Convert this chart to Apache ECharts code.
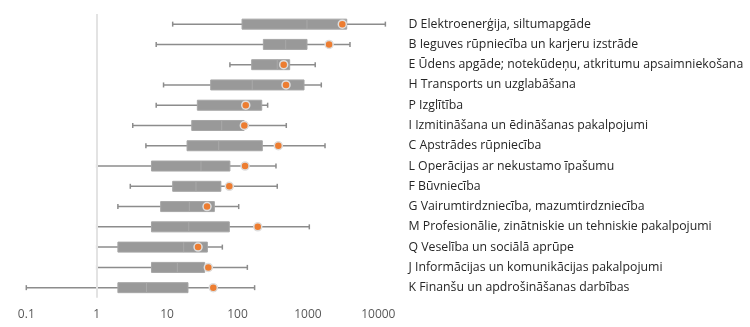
<!DOCTYPE html>
<html>
<head>
<meta charset="utf-8">
<script src="https://cdn.jsdelivr.net/npm/echarts@6/dist/echarts.min.js"></script>
<style>html,body{margin:0;padding:0;background:#fff;}#c{width:750px;height:327px;}</style>
</head>
<body>
<div id="c"></div>
<script>
const categories = [
  "D Elektroenerģija, siltumapgāde",
  "B Ieguves rūpniecība un karjeru izstrāde",
  "E Ūdens apgāde; notekūdeņu, atkritumu apsaimniekošana",
  "H Transports un uzglabāšana",
  "P Izglītība",
  "I Izmitināšana un ēdināšanas pakalpojumi",
  "C Apstrādes rūpniecība",
  "L Operācijas ar nekustamo īpašumu",
  "F Būvniecība",
  "G Vairumtirdzniecība, mazumtirdzniecība",
  "M Profesionālie, zinātniskie un tehniskie pakalpojumi",
  "Q Veselība un sociālā aprūpe",
  "J Informācijas un komunikācijas pakalpojumi",
  "K Finanšu un apdrošināšanas darbības"
];
const minValues    = [12,   7,    78,   8.9, 7,   3.25, 5,    1,    3,    2,    1,    1,    1,    0.1];
const q1Values     = [116,  233,  159,  41.6,26.9,22.4, 19.2, 6,    12,   8.1,  6,    2,    6,    2];
const medianValues = [970,  484,  367,  162, 120, 59.7, 54,   30.3, 25.7, 20.7, 20.3, 17.2, 14,   5.1];
const q3Values     = [3560, 971,  551,  881, 221, 124,  225,  78,   58,   46.9, 76.5, 37.3, 34.2, 19.8];
const maxValues    = [12600,3960, 1270, 1550,268, 493,  1750, 352,  367,  104,  1047, 60.9, 138,  175];
const meanValues   = [3080, 2000, 453,  489, 131, 125,  380,  128,  76.5, 36.9, 194,  27.5, 38.5, 45.3];
const tickLabels = ["0.1", "1", "10", "100", "1000", "10000"];

const boxData = categories.map((c, i) => [i, minValues[i], q1Values[i], medianValues[i], q3Values[i], maxValues[i]]);
const meanData = categories.map((c, i) => [meanValues[i], i]);

const chart = echarts.init(document.getElementById('c'), null, {renderer: 'canvas'});

function renderBox(params, api) {
  const idx = api.value(0);
  const pMin = api.coord([api.value(1), idx]);
  const pQ1 = api.coord([api.value(2), idx]);
  const pMed = api.coord([api.value(3), idx]);
  const pQ3 = api.coord([api.value(4), idx]);
  const pMax = api.coord([api.value(5), idx]);
  const y = pMin[1];
  const boxH = 10, capH = 5;
  const wStyle = {stroke: '#8c8c8c', lineWidth: 1.5};
  return {
    type: 'group',
    children: [
      {type: 'line', shape: {x1: pMin[0], y1: y, x2: pMax[0], y2: y}, style: wStyle},
      {type: 'line', shape: {x1: pMin[0], y1: y - capH / 2, x2: pMin[0], y2: y + capH / 2}, style: wStyle},
      {type: 'line', shape: {x1: pMax[0], y1: y - capH / 2, x2: pMax[0], y2: y + capH / 2}, style: wStyle},
      {type: 'rect', shape: {x: pQ1[0], y: y - boxH / 2, width: pQ3[0] - pQ1[0], height: boxH},
        style: {fill: '#999999', stroke: '#a6a6a6', lineWidth: 1}},
      {type: 'line', shape: {x1: pMed[0], y1: y - boxH / 2, x2: pMed[0], y2: y + boxH / 2},
        style: {stroke: '#a9a9a9', lineWidth: 1}}
    ]
  };
}

chart.setOption({
  animation: false,
  grid: {left: 26.3, right: 350.5, top: 14, bottom: 29.2, containLabel: false, outerBoundsMode: 'none'},
  xAxis: {
    type: 'log', logBase: 10, min: 0.1, max: 20000,
    axisLine: {show: false}, axisTick: {show: false}, splitLine: {show: false},
    axisLabel: {
      margin: 11, color: '#595959', fontSize: 12, fontFamily: 'Open Sans',
      showMaxLabel: false,
      formatter: function (v) {
        const e = Math.log10(v);
        const r = Math.round(e);
        if (Math.abs(e - r) > 1e-6) return '';
        const k = r + 1;
        return (k >= 0 && k < tickLabels.length) ? tickLabels[k] : '';
      }
    }
  },
  yAxis: {
    type: 'category', data: categories, inverse: true, position: 'right',
    axisLine: {show: false}, axisTick: {show: false}, splitLine: {show: false},
    axisLabel: {margin: 9, color: '#262626', fontSize: 12.3, fontFamily: 'Open Sans', align: 'left'}
  },
  series: [
    {
      type: 'scatter', data: [], z: 1, silent: true,
      markLine: {
        silent: true, symbol: ['none', 'none'], label: {show: false},
        lineStyle: {color: '#e3e3e3', width: 2, type: 'solid'},
        data: [{xAxis: 1}]
      }
    },
    {
      type: 'custom', z: 2, data: boxData, renderItem: renderBox,
      encode: {x: [1, 2, 3, 4, 5], y: 0}
    },
    {
      type: 'scatter', z: 3, data: meanData, symbol: 'circle', symbolSize: 8,
      itemStyle: {color: '#ED7D31', borderColor: '#dedede', borderWidth: 1.5, opacity: 1}
    }
  ]
});
</script>
</body>
</html>
